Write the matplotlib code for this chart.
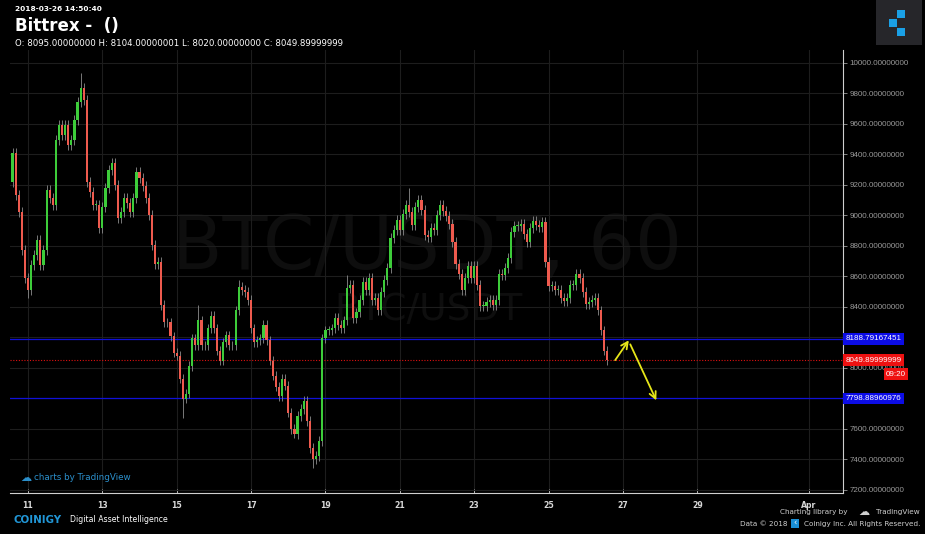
import numpy as np
import pandas as pd
import matplotlib
matplotlib.use('Agg')
import matplotlib.pyplot as plt
import matplotlib.dates as mdates
from matplotlib.patches import Rectangle
from matplotlib.transforms import blended_transform_factory

# 2-hour candles, Mar 10 14:00 -> Mar 26 14:00 (closes)
start_time = '2018-03-10 14:00'
first_open = 9220
closes = [
    9408, 9132, 9020, 8771, 8587, 8508, 8672, 8738, 8836, 8672,
    8771, 9165, 9112, 9066, 9494, 9592, 9527, 9592, 9461, 9494,
    9625, 9744, 9836, 9757, 9218, 9152, 9066, 9066, 8915, 9053,
    9178, 9297, 9343, 9198, 8981, 9020, 9112, 9079, 9020, 9112,
    9283, 9244, 9191, 9112, 9001, 8804, 8679, 8692, 8409, 8297,
    8297, 8205, 8100, 8080, 7929, 7798, 7831, 8014, 8192, 8146,
    8310, 8146, 8146, 8258, 8337, 8258, 8113, 8047, 8166, 8212,
    8146, 8146, 8376, 8527, 8508, 8495, 8442, 8258, 8166, 8179,
    8192, 8278, 8179, 8047, 7949, 7877, 7817, 7929, 7883, 7706,
    7600, 7568, 7686, 7732, 7785, 7653, 7475, 7403, 7423, 7522,
    8192, 8245, 8245, 8258, 8324, 8278, 8258, 8310, 8521, 8541,
    8324, 8363, 8442, 8560, 8508, 8587, 8442, 8455, 8376, 8495,
    8573, 8652, 8850, 8902, 8968, 8902, 9007, 9066, 9020, 8935,
    9053, 9099, 9034, 8869, 8856, 8915, 8902, 9001, 9066, 9027,
    8994, 8941, 8823, 8679, 8613, 8508, 8587, 8666, 8587, 8666,
    8541, 8403, 8403, 8429, 8442, 8409, 8442, 8613, 8606, 8652,
    8718, 8889, 8928, 8928, 8941, 8876, 8823, 8915, 8961, 8935,
    8922, 8954, 8692, 8534, 8534, 8508, 8508, 8455, 8435, 8455,
    8541, 8541, 8613, 8587, 8495, 8416, 8429, 8442, 8455, 8376,
    8245, 8113, 8049.9,
]
# wick extremes that stick out further than usual
high_idx = [22, 60, 73, 108, 128]
high_val = [9930, 8410, 8575, 8610, 9180]
low_idx = [5, 55, 91, 97]
low_val = [8455, 7670, 7540, 7345]

level_hi = 8188.79167451
level_lo = 7798.88960976
last_price = 8049.89999999

x_tick_dates = ['2018-03-11', '2018-03-13', '2018-03-15', '2018-03-17', '2018-03-19',
                '2018-03-21', '2018-03-23', '2018-03-25', '2018-03-27', '2018-03-29',
                '2018-04-01']
x_tick_labels = ['11', '13', '15', '17', '19', '21', '23', '25', '27', '29', 'Apr']
y_ticks = list(range(7200, 10001, 200))
hidden_y_labels = [7800, 8200]   # covered by the level tags

# arrows drawn by hand on the chart (date, price)
arrow_up = [('2018-03-26 18:00', 8035), ('2018-03-27 04:50', 8195)]
arrow_down = [('2018-03-27 04:00', 8170), ('2018-03-27 22:20', 7770)]

# ---------------------------------------------------------------
W, H = 925, 534
fig = plt.figure(figsize=(W / 100, H / 100), dpi=100)
fig.patch.set_facecolor('black')

def fx(px):
    return px / W

def fy(py):
    return 1 - py / H

ax = fig.add_axes([fx(10), fy(493), fx(843) - fx(10), fy(50) - fy(493)])
ax.set_facecolor('black')

times = pd.date_range(start_time, periods=len(closes), freq='2h')
t = mdates.date2num(times)
c = np.array(closes, dtype=float)
o = np.concatenate([[first_open], c[:-1]])
wick = 32
hi = np.maximum(o, c) + wick
lo = np.minimum(o, c) - wick
for i, v in zip(high_idx, high_val):
    hi[i] = v
for i, v in zip(low_idx, low_val):
    lo[i] = v

green, red = '#3dcc3a', '#ee5a4e'
cols = np.where(c >= o, green, red)
ax.vlines(t, lo, hi, color='#8c8c8c', lw=0.6, zorder=3)
body = np.maximum(np.abs(c - o), 6)
ax.bar(t, body, bottom=np.minimum(o, c), width=0.7 * 2 / 24, color=cols,
       linewidth=0, zorder=4)

base = mdates.date2num(pd.Timestamp('2018-03-11'))
ax.set_xlim(base - 0.484, base + 21.92)
ax.set_ylim(7179, 10083)

# watermark
ax.text(0.5006, 0.553, 'BTC/USDT, 60', transform=ax.transAxes, ha='center', va='center',
        fontsize=53, color='#0e0e0e', zorder=0)
ax.text(0.502, 0.413, 'BTC/USDT', transform=ax.transAxes, ha='center', va='center',
        fontsize=27, color='#0e0e0e', zorder=0)

# grid
xt = mdates.date2num(pd.to_datetime(x_tick_dates))
ax.set_xticks(xt)
ax.set_xticklabels(x_tick_labels)
ax.set_yticks(y_ticks)
ax.set_yticklabels(['' if v in hidden_y_labels else '%.8f' % v for v in y_ticks])
ax.grid(True, color='#1d1d1d', lw=0.8, zorder=1)
ax.set_axisbelow(True)

for s in ['top', 'left']:
    ax.spines[s].set_visible(False)
ax.spines['right'].set_color('#cfcfcf')
ax.spines['bottom'].set_color('#cfcfcf')
ax.yaxis.tick_right()
ax.tick_params(axis='y', colors='#9a9a9a', labelsize=5.8, length=3, width=0.6, pad=1.5,
               labelfontfamily='Liberation Sans')
ax.tick_params(axis='x', colors='#cfcfcf', labelsize=5.6, length=3, width=0.6,
               direction='in', pad=6)
for lab in ax.get_xticklabels():
    lab.set_fontweight('bold')
    lab.set_color('#d8d8d8')

# level lines
ax.axhline(level_hi, color='#1010d8', lw=0.9, zorder=2)
ax.axhline(level_lo, color='#1010d8', lw=0.9, zorder=2)
ax.axhline(last_price, color='#e01010', lw=0.8, ls=(0, (1, 1.5)), zorder=2)

tr = blended_transform_factory(ax.transAxes, ax.transData)
def price_tag(y, txt, fc):
    ax.text(1.003, y, txt, transform=tr, ha='left', va='center', fontsize=5.8,
            family='Liberation Sans', color='white', clip_on=False, zorder=10,
            bbox=dict(boxstyle='square,pad=0.3', fc=fc, ec='none'))

price_tag(level_hi, '%.8f' % level_hi, '#0c0ce6')
price_tag(last_price, '%.8f' % last_price, '#ee1111')
price_tag(level_lo, '%.8f' % level_lo, '#0c0ce6')
fig.text(fx(906), fy(374), '09:20', ha='right', va='center', fontsize=5.8,
         family='Liberation Sans', color='white',
         bbox=dict(boxstyle='square,pad=0.3', fc='#ee1111', ec='none'))

# hand drawn arrows
def arrow(pts):
    (d0, p0), (d1, p1) = pts
    ax.annotate('', xy=(mdates.date2num(pd.Timestamp(d1)), p1),
                xytext=(mdates.date2num(pd.Timestamp(d0)), p0),
                arrowprops=dict(arrowstyle='->', color='#e6e619', lw=1.3,
                                mutation_scale=12), zorder=6)
arrow(arrow_up)
arrow(arrow_down)

# header texts
fig.text(fx(15), fy(9), '2018-03-26 14:50:40', ha='left', va='center', fontsize=5.3,
         fontweight='bold', color='white')
fig.text(fx(15), fy(26), 'Bittrex -  ()', ha='left', va='center', fontsize=12,
         fontweight='bold', color='white')
fig.text(fx(15), fy(43), 'O: 8095.00000000 H: 8104.00000001 L: 8020.00000000 C: 8049.89999999',
         ha='left', va='center', fontsize=6.2, color='white')

# top right logo
fig.patches.append(Rectangle((fx(876), fy(45)), fx(46), fy(0) - fy(45), transform=fig.transFigure,
                             fc='#26262a', ec='none'))
for (px, py) in [(897, 10), (889, 19), (897, 28)]:
    fig.patches.append(Rectangle((fx(px), fy(py + 8)), fx(8), fy(0) - fy(8),
                                 transform=fig.transFigure, fc='#1aa0e6', ec='none'))

# footer / credits
fig.text(fx(20), fy(478), '\u2601', ha='left', va='center', fontsize=8, color='#2b8fcb')
fig.text(fx(34), fy(478), 'charts by TradingView', ha='left', va='center', fontsize=6.3,
         color='#2b8fcb')
fig.text(fx(13), fy(520), 'COINIGY', ha='left', va='center', fontsize=7.4, fontweight='bold',
         color='#2196d6')
fig.text(fx(70), fy(520), 'Digital Asset Intelligence', ha='left', va='center', fontsize=5.6,
         color='white')
fig.text(fx(920), fy(512), 'TradingView', ha='right', va='center', fontsize=5.2, color='#cfcfcf')
fig.text(fx(858), fy(512), '\u2601', ha='left', va='center', fontsize=8, color='#cfcfcf')
fig.text(fx(848), fy(512), 'Charting library by', ha='right', va='center', fontsize=5.2,
         color='#cfcfcf')
fig.text(fx(920), fy(524), 'Coinigy Inc. All Rights Reserved.', ha='right', va='center',
         fontsize=5.2, color='#cfcfcf')
fig.patches.append(Rectangle((fx(791), fy(528)), fx(8), fy(0) - fy(9), transform=fig.transFigure,
                             fc='#1a8fd6', ec='none'))
fig.text(fx(795), fy(523.5), '\u2039', ha='center', va='center', fontsize=6, color='white')
fig.text(fx(788), fy(524), 'Data \u00a9 2018', ha='right', va='center', fontsize=5.2,
         color='#cfcfcf')

fig.savefig('out.png', dpi=100, facecolor=fig.get_facecolor())
